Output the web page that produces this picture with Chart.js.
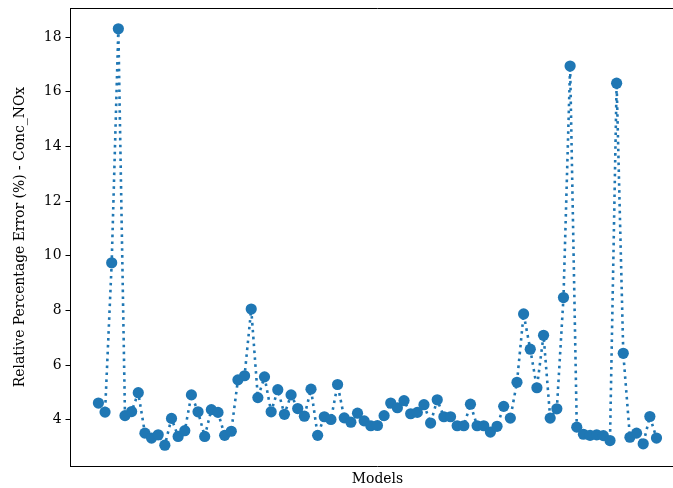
<!DOCTYPE html>
<html>
<head>
<meta charset="utf-8">
<script src="https://cdn.jsdelivr.net/npm/chart.js@4"></script>
<style>
  html, body { margin: 0; padding: 0; background: #fff; overflow: hidden; }
  #wrap { width: 690px; height: 488px; }
</style>
</head>
<body>
<div id="wrap"><canvas id="chartError"></canvas></div>
<script>
      // relative percentage error per model
      const errorValues = [
        4.61, 4.28, 9.74, 18.30, 4.15, 4.30, 4.99, 3.51, 3.33, 3.45,
        3.07, 4.05, 3.39, 3.60, 4.91, 4.29, 3.39, 4.37, 4.27, 3.43,
        3.58, 5.46, 5.61, 8.05, 4.81, 5.57, 4.29, 5.10, 4.20, 4.91,
        4.41, 4.13, 5.12, 3.43, 4.11, 4.01, 5.29, 4.07, 3.91, 4.24,
        3.96, 3.78, 3.79, 4.15, 4.61, 4.44, 4.70, 4.22, 4.27, 4.55,
        3.88, 4.73, 4.11, 4.11, 3.78, 3.78, 4.57, 3.78, 3.78, 3.55,
        3.76, 4.49, 4.06, 5.37, 7.87, 6.58, 5.17, 7.09, 4.06, 4.40,
        8.47, 16.94, 3.73, 3.47, 3.43, 3.45, 3.42, 3.24, 16.31, 6.43,
        3.36, 3.51, 3.12, 4.12, 3.33
      ];
      const modelIndex = errorValues.map((v, i) => i);
      const yTicks = [4, 6, 8, 10, 12, 14, 16, 18];

      const yLabel = "Relative Percentage Error (%) - Conc_NOx";
      const xLabel = "Models";

      // autoscale like matplotlib (5% margins)
      const yMinData = Math.min(...errorValues);
      const yMaxData = Math.max(...errorValues);
      const yPad = (yMaxData - yMinData) * 0.05;
      const xPad = (modelIndex.length - 1) * 0.05;

      const points = modelIndex.map((x, i) => ({ x: x, y: errorValues[i] }));
      const fontSerif = { family: "'DejaVu Serif', serif", size: 13.9 };
      const blue = "#1f77b4";

      // top and right spines
      const frame = {
        id: "frame",
        afterDraw(chart) {
          const { ctx, chartArea } = chart;
          ctx.save();
          ctx.strokeStyle = "#000";
          ctx.lineWidth = 1;
          ctx.beginPath();
          ctx.moveTo(chartArea.left, chartArea.top + 0.5);
          ctx.lineTo(chartArea.right, chartArea.top + 0.5);
          ctx.moveTo(chartArea.right - 0.5, chartArea.top);
          ctx.lineTo(chartArea.right - 0.5, chartArea.bottom);
          ctx.stroke();
          ctx.restore();
        }
      };

      new Chart(document.getElementById("chartError"), {
        type: "line",
        data: {
          datasets: [{
            data: points,
            borderColor: blue,
            borderWidth: 2.6,
            borderDash: [2.6, 4.3],
            pointRadius: 5.6,
            pointBorderWidth: 0,
            pointBackgroundColor: blue,
            tension: 0
          }]
        },
        plugins: [frame],
        options: {
          responsive: true,
          maintainAspectRatio: false,
          animation: false,
          devicePixelRatio: 1,
          layout: { padding: { top: 8, right: 4, left: 0, bottom: 0 } },
          plugins: { legend: { display: false }, tooltip: { enabled: false } },
          scales: {
            x: {
              type: "linear",
              min: -xPad,
              max: modelIndex.length - 1 + xPad,
              grid: { display: false },
              border: { display: true, color: "#000", width: 1 },
              ticks: { display: false },
              title: { display: true, text: xLabel, color: "#000", font: fontSerif, padding: { top: 0, bottom: 0 } },
              afterFit(scale) { scale.height = 22; scale.paddingLeft = 0; scale.paddingRight = 0; }
            },
            y: {
              min: yMinData - yPad,
              max: yMaxData + yPad,
              afterBuildTicks(scale) { scale.ticks = yTicks.map(v => ({ value: v })); },
              grid: { drawOnChartArea: false, tickLength: 5, color: "#000", tickColor: "#000" },
              border: { display: true, color: "#000", width: 1 },
              ticks: { color: "#000", font: fontSerif, padding: 4 },
              title: { display: true, text: yLabel, color: "#000", font: fontSerif, padding: { top: 12, bottom: 0 } },
              afterFit(scale) { scale.width = 70.5; scale.paddingTop = 0; scale.paddingBottom = 0; }
            }
          }
        }
      });
</script>
</body>
</html>
